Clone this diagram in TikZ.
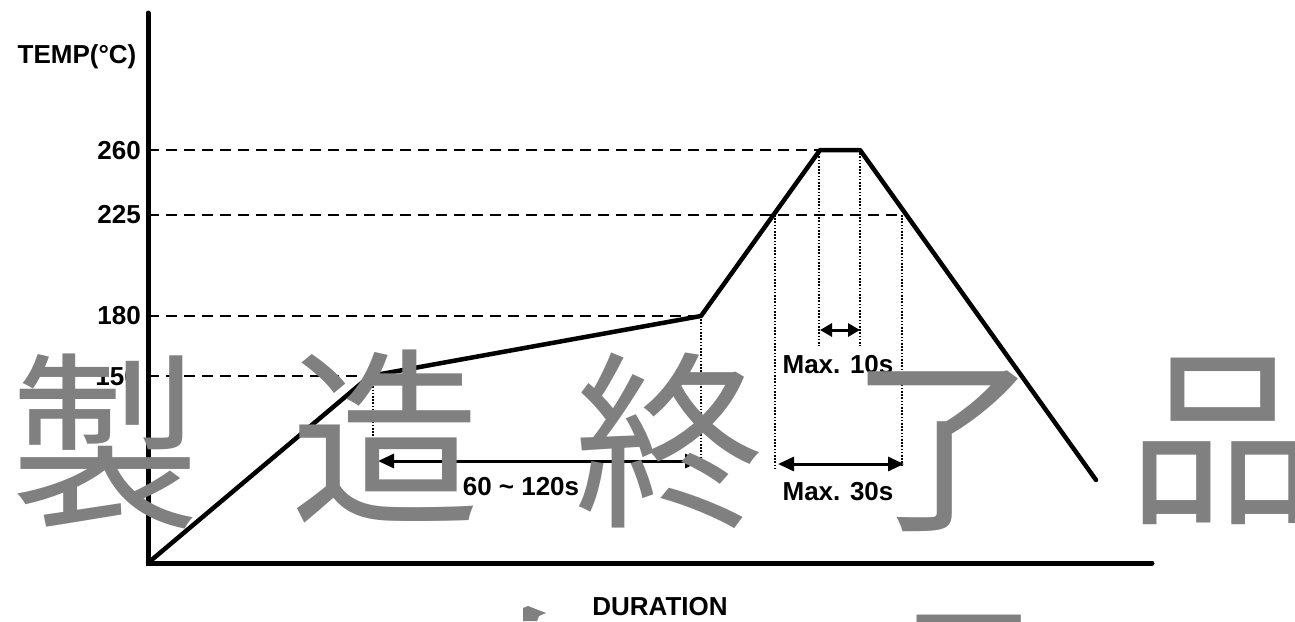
\documentclass[tikz,border=0pt]{standalone}
\usepackage{fontspec}
\setmainfont{Liberation Sans}
\newfontfamily\cjk{Noto Sans CJK JP}
\usetikzlibrary{arrows.meta}
\definecolor{wmgray}{RGB}{128,128,128}
\begin{document}
\begin{tikzpicture}[x=1pt,y=-1pt,
  axis/.style={line width=5pt,line cap=round,line join=miter},
  profile/.style={line width=4.5pt,line join=round,line cap=round},
  guide/.style={line width=1.3pt,dash pattern=on 11pt off 7pt},
  drop/.style={line width=1.3pt,dash pattern=on 1.6pt off 1.6pt},
  span/.style={line width=3pt,{Triangle[length=16pt,width=14pt]}-{Triangle[length=16pt,width=14pt]}},
  spansmall/.style={line width=3pt,{Triangle[length=12pt,width=13pt]}-{Triangle[length=12pt,width=13pt]}},
  lbl/.style={font=\bfseries\fontsize{26}{26}\selectfont,inner sep=0pt},
  wm/.style={font=\cjk\fontsize{190}{190}\selectfont,text=wmgray,inner sep=0pt}]

\clip (0,0) rectangle (1295,621);
\fill[white] (0,0) rectangle (1295,621);

% key points
\coordinate (O) at (148,563);
\coordinate (ytop) at (148,13);
\coordinate (xend) at (1152,563);
\coordinate (p150) at (370,376);
\coordinate (p180) at (701,316);
\coordinate (pk1) at (820,150);
\coordinate (pk2) at (860,150);
\coordinate (pend) at (1096,480);
\coordinate (c225a) at (775,215);
\coordinate (c225b) at (902,215);
\coordinate (y260) at (148,150);
\coordinate (y225) at (148,215);
\coordinate (y180) at (148,316);
\coordinate (y150) at (148,376);

% dashed level guides
\draw[guide] (y260) -- (pk1);
\draw[guide] (y225) -- (c225b);
\draw[guide] (y180) -- (p180);
\draw[guide] (y150) -- (p150);

% dotted drop lines
\coordinate (d1b) at (373,470);
\coordinate (d2b) at (701,468);
\coordinate (d3b) at (775,468);
\coordinate (d4b) at (819,346);
\coordinate (d5b) at (860,346);
\coordinate (d6b) at (902,466);
\draw[drop] (p150) ++(3,4) -- (d1b);
\draw[drop] (p180) -- (d2b);
\draw[drop] (c225a) -- (d3b);
\draw[drop] (pk1) ++(-1,0) -- (d4b);
\draw[drop] (pk2) -- (d5b);
\draw[drop] (c225b) -- (d6b);

% profile
\draw[profile] (O) -- (p150) -- (p180) -- (pk1) -- (pk2) -- (pend);

% axes
\draw[axis] (ytop) -- (O) -- (xend);

% span arrows
\coordinate (a1l) at (378,461);
\coordinate (a1r) at (701,461);
\coordinate (a2l) at (820,330);
\coordinate (a2r) at (860,330);
\coordinate (a3l) at (778,464);
\coordinate (a3r) at (904,464);
\draw[span] (a1l) -- (a1r);
\draw[spansmall] (a2l) -- (a2r);
\draw[span] (a3l) -- (a3r);

% labels
\node[lbl] (ttemp) at (77,57) {TEMP(°C)};
\node[lbl,anchor=east] (t260) at (141,151) {260};
\node[lbl,anchor=east] (t225) at (141,215) {225};
\node[lbl,anchor=east] (t180) at (141,316) {180};
\node[lbl,anchor=east] (t150) at (139,377) {150};
\node[lbl] (tdur1) at (521,487) {60 \textasciitilde{} 120s};
\node[lbl] (tmax10) at (838,365) {Max. 10s};
\node[lbl] (tmax30) at (838,492) {Max. 30s};
\node[lbl] (tdur) at (660,607) {DURATION};

% watermark
\node[wm] (w1) at (105,441) {製};
\node[wm] (w2) at (385,437) {造};
\node[wm] (w3) at (669,441) {終};
\node[wm] (w4) at (944,451) {了};
\node[wm] (w5) at (1222,441) {品};
\node[wm] (w6) at (968,698) {品};
\fill[wmgray] (523,608) -- (528,606) -- (546,613) -- (539,616) -- (537,621) -- (523,621) -- cycle;
\end{tikzpicture}
\end{document}
